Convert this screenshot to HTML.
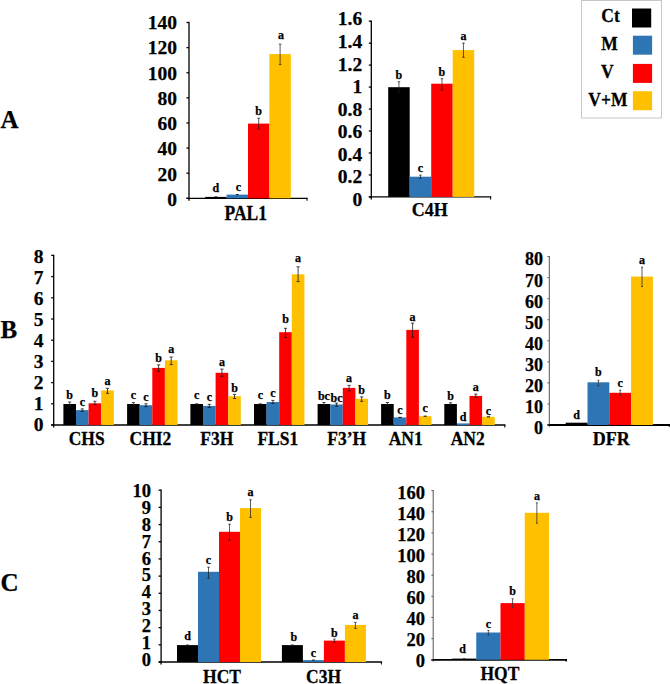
<!DOCTYPE html>
<html><head><meta charset="utf-8"><style>
html,body{margin:0;padding:0;background:#fff;width:670px;height:684px;overflow:hidden}
svg{display:block}
text{font-family:"Liberation Serif",serif;font-weight:bold;fill:#000;stroke:#000;stroke-width:0.25px}
</style></head><body>
<svg width="670" height="684" viewBox="0 0 670 684">
<line x1="189.00" y1="21.85" x2="189.00" y2="200.80" stroke="#000" stroke-width="1.3"/>
<line x1="186.50" y1="198.30" x2="307.65" y2="198.30" stroke="#000" stroke-width="1.3"/>
<line x1="307.00" y1="198.30" x2="307.00" y2="200.80" stroke="#000" stroke-width="1.04"/>
<line x1="186.50" y1="198.30" x2="189.00" y2="198.30" stroke="#000" stroke-width="1.3"/>
<line x1="186.50" y1="173.19" x2="189.00" y2="173.19" stroke="#000" stroke-width="1.3"/>
<line x1="186.50" y1="148.07" x2="189.00" y2="148.07" stroke="#000" stroke-width="1.3"/>
<line x1="186.50" y1="122.96" x2="189.00" y2="122.96" stroke="#000" stroke-width="1.3"/>
<line x1="186.50" y1="97.84" x2="189.00" y2="97.84" stroke="#000" stroke-width="1.3"/>
<line x1="186.50" y1="72.73" x2="189.00" y2="72.73" stroke="#000" stroke-width="1.3"/>
<line x1="186.50" y1="47.61" x2="189.00" y2="47.61" stroke="#000" stroke-width="1.3"/>
<line x1="186.50" y1="22.50" x2="189.00" y2="22.50" stroke="#000" stroke-width="1.3"/>
<text x="177.00" y="205.99" font-size="19.5" text-anchor="end">0</text>
<text x="177.00" y="180.74" font-size="19.5" text-anchor="end">20</text>
<text x="177.00" y="155.49" font-size="19.5" text-anchor="end">40</text>
<text x="177.00" y="130.24" font-size="19.5" text-anchor="end">60</text>
<text x="177.00" y="104.99" font-size="19.5" text-anchor="end">80</text>
<text x="177.00" y="79.74" font-size="19.5" text-anchor="end">100</text>
<text x="177.00" y="54.49" font-size="19.5" text-anchor="end">120</text>
<text x="177.00" y="29.24" font-size="19.5" text-anchor="end">140</text>
<rect x="205.20" y="196.90" width="21.40" height="1.40" fill="#000000"/>
<rect x="226.60" y="194.60" width="21.40" height="3.70" fill="#2E75B6"/>
<rect x="248.00" y="123.60" width="21.40" height="74.70" fill="#FF0000"/>
<rect x="269.40" y="54.10" width="21.40" height="144.20" fill="#FFC000"/>
<line x1="214.60" y1="196.90" x2="217.20" y2="196.90" stroke="#1a1a1a" stroke-width="1.1"/>
<text x="215.90" y="192.30" font-size="12" text-anchor="middle">d</text>
<line x1="236.00" y1="194.60" x2="238.60" y2="194.60" stroke="#1a1a1a" stroke-width="1.1"/>
<text x="238.30" y="191.00" font-size="12" text-anchor="middle">c</text>
<line x1="258.70" y1="118.20" x2="258.70" y2="129.00" stroke="#1a1a1a" stroke-width="0.7"/>
<line x1="257.40" y1="118.20" x2="260.00" y2="118.20" stroke="#1a1a1a" stroke-width="0.7"/>
<line x1="257.40" y1="129.00" x2="260.00" y2="129.00" stroke="#1a1a1a" stroke-width="0.7"/>
<text x="258.70" y="114.80" font-size="12" text-anchor="middle">b</text>
<line x1="280.10" y1="44.10" x2="280.10" y2="64.60" stroke="#1a1a1a" stroke-width="0.7"/>
<line x1="278.80" y1="44.10" x2="281.40" y2="44.10" stroke="#1a1a1a" stroke-width="0.7"/>
<line x1="278.80" y1="64.60" x2="281.40" y2="64.60" stroke="#1a1a1a" stroke-width="0.7"/>
<text x="281.00" y="39.40" font-size="12" text-anchor="middle">a</text>
<text transform="translate(245.80,219.60) scale(1,1.14)" font-size="17.5" text-anchor="middle">PAL1</text>
<line x1="371.30" y1="20.55" x2="371.30" y2="199.40" stroke="#000" stroke-width="1.3"/>
<line x1="368.80" y1="196.90" x2="491.25" y2="196.90" stroke="#000" stroke-width="1.3"/>
<line x1="490.60" y1="196.90" x2="490.60" y2="199.40" stroke="#000" stroke-width="1.04"/>
<line x1="368.80" y1="196.90" x2="371.30" y2="196.90" stroke="#000" stroke-width="1.3"/>
<line x1="368.80" y1="174.94" x2="371.30" y2="174.94" stroke="#000" stroke-width="1.3"/>
<line x1="368.80" y1="152.97" x2="371.30" y2="152.97" stroke="#000" stroke-width="1.3"/>
<line x1="368.80" y1="131.01" x2="371.30" y2="131.01" stroke="#000" stroke-width="1.3"/>
<line x1="368.80" y1="109.05" x2="371.30" y2="109.05" stroke="#000" stroke-width="1.3"/>
<line x1="368.80" y1="87.09" x2="371.30" y2="87.09" stroke="#000" stroke-width="1.3"/>
<line x1="368.80" y1="65.12" x2="371.30" y2="65.12" stroke="#000" stroke-width="1.3"/>
<line x1="368.80" y1="43.16" x2="371.30" y2="43.16" stroke="#000" stroke-width="1.3"/>
<line x1="368.80" y1="21.20" x2="371.30" y2="21.20" stroke="#000" stroke-width="1.3"/>
<text x="362.20" y="205.69" font-size="19.5" text-anchor="end">0</text>
<text x="362.20" y="183.17" font-size="19.5" text-anchor="end">0.2</text>
<text x="362.20" y="160.64" font-size="19.5" text-anchor="end">0.4</text>
<text x="362.20" y="138.12" font-size="19.5" text-anchor="end">0.6</text>
<text x="362.20" y="115.59" font-size="19.5" text-anchor="end">0.8</text>
<text x="362.20" y="93.07" font-size="19.5" text-anchor="end">1</text>
<text x="362.20" y="70.54" font-size="19.5" text-anchor="end">1.2</text>
<text x="362.20" y="48.02" font-size="19.5" text-anchor="end">1.4</text>
<text x="362.20" y="25.49" font-size="19.5" text-anchor="end">1.6</text>
<rect x="388.20" y="87.20" width="21.50" height="109.70" fill="#000000"/>
<rect x="409.70" y="176.70" width="21.50" height="20.20" fill="#2E75B6"/>
<rect x="431.20" y="83.70" width="21.50" height="113.20" fill="#FF0000"/>
<rect x="452.70" y="50.10" width="21.50" height="146.80" fill="#FFC000"/>
<line x1="398.95" y1="81.70" x2="398.95" y2="92.70" stroke="#1a1a1a" stroke-width="0.7"/>
<line x1="397.65" y1="81.70" x2="400.25" y2="81.70" stroke="#1a1a1a" stroke-width="0.7"/>
<line x1="397.65" y1="92.70" x2="400.25" y2="92.70" stroke="#1a1a1a" stroke-width="0.7"/>
<text x="398.95" y="79.10" font-size="12" text-anchor="middle">b</text>
<line x1="420.45" y1="175.20" x2="420.45" y2="178.20" stroke="#1a1a1a" stroke-width="0.7"/>
<line x1="419.15" y1="175.20" x2="421.75" y2="175.20" stroke="#1a1a1a" stroke-width="0.7"/>
<line x1="419.15" y1="178.20" x2="421.75" y2="178.20" stroke="#1a1a1a" stroke-width="0.7"/>
<text x="420.45" y="171.60" font-size="12" text-anchor="middle">c</text>
<line x1="441.95" y1="78.70" x2="441.95" y2="90.20" stroke="#1a1a1a" stroke-width="0.7"/>
<line x1="440.65" y1="78.70" x2="443.25" y2="78.70" stroke="#1a1a1a" stroke-width="0.7"/>
<line x1="440.65" y1="90.20" x2="443.25" y2="90.20" stroke="#1a1a1a" stroke-width="0.7"/>
<text x="441.95" y="76.00" font-size="12" text-anchor="middle">b</text>
<line x1="463.45" y1="43.10" x2="463.45" y2="57.30" stroke="#1a1a1a" stroke-width="0.7"/>
<line x1="462.15" y1="43.10" x2="464.75" y2="43.10" stroke="#1a1a1a" stroke-width="0.7"/>
<line x1="462.15" y1="57.30" x2="464.75" y2="57.30" stroke="#1a1a1a" stroke-width="0.7"/>
<text x="463.45" y="40.10" font-size="12" text-anchor="middle">a</text>
<text x="429.70" y="215.80" font-size="18" text-anchor="middle">C4H</text>
<rect x="581.5" y="0.5" width="80" height="117.5" fill="#fff" stroke="#c8c8c8" stroke-width="1"/>
<rect x="632.00" y="8.50" width="19.20" height="19.00" fill="#000000"/>
<rect x="632.90" y="35.70" width="19.20" height="19.00" fill="#2E75B6"/>
<rect x="632.90" y="63.90" width="19.20" height="19.00" fill="#FF0000"/>
<rect x="632.90" y="91.20" width="19.20" height="19.00" fill="#FFC000"/>
<text transform="translate(610.60,21.70) scale(1,1.08)" font-size="17.5" text-anchor="middle">Ct</text>
<text transform="translate(609.60,49.90) scale(1,1.08)" font-size="17.5" text-anchor="middle">M</text>
<text transform="translate(607.30,77.70) scale(1,1.08)" font-size="17.5" text-anchor="middle">V</text>
<text transform="translate(607.90,106.00) scale(1,1.08)" font-size="17.5" text-anchor="middle">V+M</text>
<text x="0.50" y="127.60" font-size="25" text-anchor="start">A</text>
<text x="0.50" y="338.40" font-size="25" text-anchor="start">B</text>
<text x="0.50" y="591.00" font-size="25" text-anchor="start">C</text>
<line x1="53.70" y1="254.75" x2="53.70" y2="427.50" stroke="#000" stroke-width="1.3"/>
<line x1="51.20" y1="425.00" x2="505.45" y2="425.00" stroke="#000" stroke-width="1.3"/>
<line x1="504.80" y1="425.00" x2="504.80" y2="427.50" stroke="#000" stroke-width="1.04"/>
<line x1="51.20" y1="425.00" x2="53.70" y2="425.00" stroke="#000" stroke-width="1.3"/>
<line x1="51.20" y1="403.80" x2="53.70" y2="403.80" stroke="#000" stroke-width="1.3"/>
<line x1="51.20" y1="382.60" x2="53.70" y2="382.60" stroke="#000" stroke-width="1.3"/>
<line x1="51.20" y1="361.40" x2="53.70" y2="361.40" stroke="#000" stroke-width="1.3"/>
<line x1="51.20" y1="340.20" x2="53.70" y2="340.20" stroke="#000" stroke-width="1.3"/>
<line x1="51.20" y1="319.00" x2="53.70" y2="319.00" stroke="#000" stroke-width="1.3"/>
<line x1="51.20" y1="297.80" x2="53.70" y2="297.80" stroke="#000" stroke-width="1.3"/>
<line x1="51.20" y1="276.60" x2="53.70" y2="276.60" stroke="#000" stroke-width="1.3"/>
<line x1="51.20" y1="255.40" x2="53.70" y2="255.40" stroke="#000" stroke-width="1.3"/>
<text x="43.40" y="430.84" font-size="19.5" text-anchor="end">0</text>
<text x="43.40" y="409.82" font-size="19.5" text-anchor="end">1</text>
<text x="43.40" y="388.81" font-size="19.5" text-anchor="end">2</text>
<text x="43.40" y="367.79" font-size="19.5" text-anchor="end">3</text>
<text x="43.40" y="346.77" font-size="19.5" text-anchor="end">4</text>
<text x="43.40" y="325.75" font-size="19.5" text-anchor="end">5</text>
<text x="43.40" y="304.73" font-size="19.5" text-anchor="end">6</text>
<text x="43.40" y="283.71" font-size="19.5" text-anchor="end">7</text>
<text x="43.40" y="262.69" font-size="19.5" text-anchor="end">8</text>
<rect x="63.40" y="404.00" width="12.60" height="21.00" fill="#000000"/>
<rect x="76.00" y="410.10" width="12.60" height="14.90" fill="#2E75B6"/>
<rect x="88.60" y="403.30" width="12.60" height="21.70" fill="#FF0000"/>
<rect x="101.20" y="390.40" width="12.60" height="34.60" fill="#FFC000"/>
<line x1="69.70" y1="402.00" x2="69.70" y2="405.50" stroke="#1a1a1a" stroke-width="0.8"/>
<line x1="68.10" y1="402.00" x2="71.30" y2="402.00" stroke="#1a1a1a" stroke-width="0.8"/>
<line x1="68.10" y1="405.50" x2="71.30" y2="405.50" stroke="#1a1a1a" stroke-width="0.8"/>
<text x="69.70" y="398.60" font-size="12" text-anchor="middle">b</text>
<line x1="82.30" y1="408.90" x2="82.30" y2="411.40" stroke="#1a1a1a" stroke-width="0.8"/>
<line x1="80.70" y1="408.90" x2="83.90" y2="408.90" stroke="#1a1a1a" stroke-width="0.8"/>
<line x1="80.70" y1="411.40" x2="83.90" y2="411.40" stroke="#1a1a1a" stroke-width="0.8"/>
<text x="82.30" y="406.30" font-size="12" text-anchor="middle">c</text>
<line x1="94.90" y1="401.30" x2="94.90" y2="404.50" stroke="#1a1a1a" stroke-width="0.8"/>
<line x1="93.30" y1="401.30" x2="96.50" y2="401.30" stroke="#1a1a1a" stroke-width="0.8"/>
<line x1="93.30" y1="404.50" x2="96.50" y2="404.50" stroke="#1a1a1a" stroke-width="0.8"/>
<text x="94.90" y="397.30" font-size="12" text-anchor="middle">b</text>
<line x1="107.50" y1="388.40" x2="107.50" y2="393.30" stroke="#1a1a1a" stroke-width="0.8"/>
<line x1="105.90" y1="388.40" x2="109.10" y2="388.40" stroke="#1a1a1a" stroke-width="0.8"/>
<line x1="105.90" y1="393.30" x2="109.10" y2="393.30" stroke="#1a1a1a" stroke-width="0.8"/>
<text x="107.50" y="385.20" font-size="12" text-anchor="middle">a</text>
<rect x="127.10" y="404.00" width="12.60" height="21.00" fill="#000000"/>
<rect x="139.70" y="405.20" width="12.60" height="19.80" fill="#2E75B6"/>
<rect x="152.30" y="367.90" width="12.60" height="57.10" fill="#FF0000"/>
<rect x="164.90" y="360.30" width="12.60" height="64.70" fill="#FFC000"/>
<line x1="133.40" y1="402.60" x2="133.40" y2="405.00" stroke="#1a1a1a" stroke-width="0.8"/>
<line x1="131.80" y1="402.60" x2="135.00" y2="402.60" stroke="#1a1a1a" stroke-width="0.8"/>
<line x1="131.80" y1="405.00" x2="135.00" y2="405.00" stroke="#1a1a1a" stroke-width="0.8"/>
<text x="133.40" y="399.40" font-size="12" text-anchor="middle">c</text>
<line x1="146.00" y1="403.80" x2="146.00" y2="406.70" stroke="#1a1a1a" stroke-width="0.8"/>
<line x1="144.40" y1="403.80" x2="147.60" y2="403.80" stroke="#1a1a1a" stroke-width="0.8"/>
<line x1="144.40" y1="406.70" x2="147.60" y2="406.70" stroke="#1a1a1a" stroke-width="0.8"/>
<text x="146.00" y="401.10" font-size="12" text-anchor="middle">c</text>
<line x1="158.60" y1="364.90" x2="158.60" y2="371.40" stroke="#1a1a1a" stroke-width="0.8"/>
<line x1="157.00" y1="364.90" x2="160.20" y2="364.90" stroke="#1a1a1a" stroke-width="0.8"/>
<line x1="157.00" y1="371.40" x2="160.20" y2="371.40" stroke="#1a1a1a" stroke-width="0.8"/>
<text x="158.60" y="361.70" font-size="12" text-anchor="middle">b</text>
<line x1="171.20" y1="357.00" x2="171.20" y2="364.60" stroke="#1a1a1a" stroke-width="0.8"/>
<line x1="169.60" y1="357.00" x2="172.80" y2="357.00" stroke="#1a1a1a" stroke-width="0.8"/>
<line x1="169.60" y1="364.60" x2="172.80" y2="364.60" stroke="#1a1a1a" stroke-width="0.8"/>
<text x="171.20" y="353.30" font-size="12" text-anchor="middle">a</text>
<rect x="190.40" y="404.00" width="12.60" height="21.00" fill="#000000"/>
<rect x="203.00" y="405.90" width="12.60" height="19.10" fill="#2E75B6"/>
<rect x="215.60" y="372.80" width="12.60" height="52.20" fill="#FF0000"/>
<rect x="228.20" y="396.20" width="12.60" height="28.80" fill="#FFC000"/>
<line x1="195.10" y1="404.00" x2="198.30" y2="404.00" stroke="#1a1a1a" stroke-width="1.1"/>
<text x="196.70" y="398.50" font-size="12" text-anchor="middle">c</text>
<line x1="209.30" y1="404.40" x2="209.30" y2="407.50" stroke="#1a1a1a" stroke-width="0.8"/>
<line x1="207.70" y1="404.40" x2="210.90" y2="404.40" stroke="#1a1a1a" stroke-width="0.8"/>
<line x1="207.70" y1="407.50" x2="210.90" y2="407.50" stroke="#1a1a1a" stroke-width="0.8"/>
<text x="209.30" y="400.90" font-size="12" text-anchor="middle">c</text>
<line x1="221.90" y1="369.10" x2="221.90" y2="376.30" stroke="#1a1a1a" stroke-width="0.8"/>
<line x1="220.30" y1="369.10" x2="223.50" y2="369.10" stroke="#1a1a1a" stroke-width="0.8"/>
<line x1="220.30" y1="376.30" x2="223.50" y2="376.30" stroke="#1a1a1a" stroke-width="0.8"/>
<text x="221.90" y="365.80" font-size="12" text-anchor="middle">a</text>
<line x1="234.50" y1="394.40" x2="234.50" y2="398.50" stroke="#1a1a1a" stroke-width="0.8"/>
<line x1="232.90" y1="394.40" x2="236.10" y2="394.40" stroke="#1a1a1a" stroke-width="0.8"/>
<line x1="232.90" y1="398.50" x2="236.10" y2="398.50" stroke="#1a1a1a" stroke-width="0.8"/>
<text x="234.50" y="391.50" font-size="12" text-anchor="middle">b</text>
<rect x="254.00" y="404.00" width="12.60" height="21.00" fill="#000000"/>
<rect x="266.60" y="402.00" width="12.60" height="23.00" fill="#2E75B6"/>
<rect x="279.20" y="332.20" width="12.60" height="92.80" fill="#FF0000"/>
<rect x="291.80" y="274.30" width="12.60" height="150.70" fill="#FFC000"/>
<line x1="258.70" y1="404.00" x2="261.90" y2="404.00" stroke="#1a1a1a" stroke-width="1.1"/>
<text x="260.30" y="399.10" font-size="12" text-anchor="middle">c</text>
<line x1="272.90" y1="400.40" x2="272.90" y2="403.50" stroke="#1a1a1a" stroke-width="0.8"/>
<line x1="271.30" y1="400.40" x2="274.50" y2="400.40" stroke="#1a1a1a" stroke-width="0.8"/>
<line x1="271.30" y1="403.50" x2="274.50" y2="403.50" stroke="#1a1a1a" stroke-width="0.8"/>
<text x="272.90" y="397.30" font-size="12" text-anchor="middle">c</text>
<line x1="285.50" y1="328.30" x2="285.50" y2="337.60" stroke="#1a1a1a" stroke-width="0.8"/>
<line x1="283.90" y1="328.30" x2="287.10" y2="328.30" stroke="#1a1a1a" stroke-width="0.8"/>
<line x1="283.90" y1="337.60" x2="287.10" y2="337.60" stroke="#1a1a1a" stroke-width="0.8"/>
<text x="285.50" y="323.40" font-size="12" text-anchor="middle">b</text>
<line x1="298.10" y1="266.80" x2="298.10" y2="281.60" stroke="#1a1a1a" stroke-width="0.8"/>
<line x1="296.50" y1="266.80" x2="299.70" y2="266.80" stroke="#1a1a1a" stroke-width="0.8"/>
<line x1="296.50" y1="281.60" x2="299.70" y2="281.60" stroke="#1a1a1a" stroke-width="0.8"/>
<text x="298.10" y="262.10" font-size="12" text-anchor="middle">a</text>
<rect x="317.60" y="404.00" width="12.60" height="21.00" fill="#000000"/>
<rect x="330.20" y="404.50" width="12.60" height="20.50" fill="#2E75B6"/>
<rect x="342.80" y="387.90" width="12.60" height="37.10" fill="#FF0000"/>
<rect x="355.40" y="398.80" width="12.60" height="26.20" fill="#FFC000"/>
<line x1="323.90" y1="402.50" x2="323.90" y2="405.00" stroke="#1a1a1a" stroke-width="0.8"/>
<line x1="322.30" y1="402.50" x2="325.50" y2="402.50" stroke="#1a1a1a" stroke-width="0.8"/>
<line x1="322.30" y1="405.00" x2="325.50" y2="405.00" stroke="#1a1a1a" stroke-width="0.8"/>
<text x="323.90" y="400.00" font-size="12" text-anchor="middle">bc</text>
<line x1="336.50" y1="403.10" x2="336.50" y2="406.30" stroke="#1a1a1a" stroke-width="0.8"/>
<line x1="334.90" y1="403.10" x2="338.10" y2="403.10" stroke="#1a1a1a" stroke-width="0.8"/>
<line x1="334.90" y1="406.30" x2="338.10" y2="406.30" stroke="#1a1a1a" stroke-width="0.8"/>
<text x="336.50" y="401.80" font-size="12" text-anchor="middle">bc</text>
<line x1="349.10" y1="385.40" x2="349.10" y2="390.80" stroke="#1a1a1a" stroke-width="0.8"/>
<line x1="347.50" y1="385.40" x2="350.70" y2="385.40" stroke="#1a1a1a" stroke-width="0.8"/>
<line x1="347.50" y1="390.80" x2="350.70" y2="390.80" stroke="#1a1a1a" stroke-width="0.8"/>
<text x="349.10" y="381.60" font-size="12" text-anchor="middle">a</text>
<line x1="361.70" y1="396.90" x2="361.70" y2="401.30" stroke="#1a1a1a" stroke-width="0.8"/>
<line x1="360.10" y1="396.90" x2="363.30" y2="396.90" stroke="#1a1a1a" stroke-width="0.8"/>
<line x1="360.10" y1="401.30" x2="363.30" y2="401.30" stroke="#1a1a1a" stroke-width="0.8"/>
<text x="361.70" y="393.70" font-size="12" text-anchor="middle">b</text>
<rect x="381.10" y="404.00" width="12.60" height="21.00" fill="#000000"/>
<rect x="393.70" y="417.40" width="12.60" height="7.60" fill="#2E75B6"/>
<rect x="406.30" y="329.90" width="12.60" height="95.10" fill="#FF0000"/>
<rect x="418.90" y="416.20" width="12.60" height="8.80" fill="#FFC000"/>
<line x1="387.40" y1="402.50" x2="387.40" y2="405.00" stroke="#1a1a1a" stroke-width="0.8"/>
<line x1="385.80" y1="402.50" x2="389.00" y2="402.50" stroke="#1a1a1a" stroke-width="0.8"/>
<line x1="385.80" y1="405.00" x2="389.00" y2="405.00" stroke="#1a1a1a" stroke-width="0.8"/>
<text x="387.40" y="399.30" font-size="12" text-anchor="middle">b</text>
<line x1="398.40" y1="417.40" x2="401.60" y2="417.40" stroke="#1a1a1a" stroke-width="1.1"/>
<text x="400.00" y="414.10" font-size="12" text-anchor="middle">c</text>
<line x1="412.60" y1="323.20" x2="412.60" y2="337.20" stroke="#1a1a1a" stroke-width="0.8"/>
<line x1="411.00" y1="323.20" x2="414.20" y2="323.20" stroke="#1a1a1a" stroke-width="0.8"/>
<line x1="411.00" y1="337.20" x2="414.20" y2="337.20" stroke="#1a1a1a" stroke-width="0.8"/>
<text x="412.60" y="320.90" font-size="12" text-anchor="middle">a</text>
<line x1="423.60" y1="416.20" x2="426.80" y2="416.20" stroke="#1a1a1a" stroke-width="1.1"/>
<text x="425.20" y="412.30" font-size="12" text-anchor="middle">c</text>
<rect x="444.30" y="404.00" width="12.60" height="21.00" fill="#000000"/>
<rect x="456.90" y="423.40" width="12.60" height="1.60" fill="#2E75B6"/>
<rect x="469.50" y="395.90" width="12.60" height="29.10" fill="#FF0000"/>
<rect x="482.10" y="416.80" width="12.60" height="8.20" fill="#FFC000"/>
<line x1="450.60" y1="402.80" x2="450.60" y2="405.00" stroke="#1a1a1a" stroke-width="0.8"/>
<line x1="449.00" y1="402.80" x2="452.20" y2="402.80" stroke="#1a1a1a" stroke-width="0.8"/>
<line x1="449.00" y1="405.00" x2="452.20" y2="405.00" stroke="#1a1a1a" stroke-width="0.8"/>
<text x="450.60" y="399.90" font-size="12" text-anchor="middle">b</text>
<text x="463.20" y="421.30" font-size="12" text-anchor="middle">d</text>
<line x1="475.80" y1="394.10" x2="475.80" y2="397.20" stroke="#1a1a1a" stroke-width="0.8"/>
<line x1="474.20" y1="394.10" x2="477.40" y2="394.10" stroke="#1a1a1a" stroke-width="0.8"/>
<line x1="474.20" y1="397.20" x2="477.40" y2="397.20" stroke="#1a1a1a" stroke-width="0.8"/>
<text x="475.80" y="391.00" font-size="12" text-anchor="middle">a</text>
<line x1="486.80" y1="416.80" x2="490.00" y2="416.80" stroke="#1a1a1a" stroke-width="1.1"/>
<text x="488.40" y="415.00" font-size="12" text-anchor="middle">c</text>
<text transform="translate(86.65,445.20) scale(1,1.03)" font-size="17.5" text-anchor="middle">CHS</text>
<text transform="translate(150.45,445.20) scale(1,1.03)" font-size="17.5" text-anchor="middle">CHI2</text>
<text transform="translate(216.85,445.20) scale(1,1.03)" font-size="17.5" text-anchor="middle">F3H</text>
<text transform="translate(277.85,445.20) scale(1,1.03)" font-size="17.5" text-anchor="middle">FLS1</text>
<text transform="translate(346.75,445.20) scale(1,1.03)" font-size="17.5" text-anchor="middle">F3’H</text>
<text transform="translate(405.70,445.20) scale(1,1.03)" font-size="17.5" text-anchor="middle">AN1</text>
<text transform="translate(467.70,445.20) scale(1,1.03)" font-size="17.5" text-anchor="middle">AN2</text>
<line x1="549.30" y1="256.10" x2="549.30" y2="426.80" stroke="#555" stroke-width="1.0"/>
<line x1="547.50" y1="425.00" x2="670.30" y2="425.00" stroke="#000" stroke-width="1.8"/>
<line x1="669.40" y1="425.00" x2="669.40" y2="426.80" stroke="#000" stroke-width="1.4400000000000002"/>
<line x1="547.50" y1="425.00" x2="549.30" y2="425.00" stroke="#555" stroke-width="1.0"/>
<line x1="547.50" y1="403.95" x2="549.30" y2="403.95" stroke="#555" stroke-width="1.0"/>
<line x1="547.50" y1="382.90" x2="549.30" y2="382.90" stroke="#555" stroke-width="1.0"/>
<line x1="547.50" y1="361.85" x2="549.30" y2="361.85" stroke="#555" stroke-width="1.0"/>
<line x1="547.50" y1="340.80" x2="549.30" y2="340.80" stroke="#555" stroke-width="1.0"/>
<line x1="547.50" y1="319.75" x2="549.30" y2="319.75" stroke="#555" stroke-width="1.0"/>
<line x1="547.50" y1="298.70" x2="549.30" y2="298.70" stroke="#555" stroke-width="1.0"/>
<line x1="547.50" y1="277.65" x2="549.30" y2="277.65" stroke="#555" stroke-width="1.0"/>
<line x1="547.50" y1="256.60" x2="549.30" y2="256.60" stroke="#555" stroke-width="1.0"/>
<text x="542.90" y="433.99" font-size="18" text-anchor="end">0</text>
<text x="542.90" y="412.93" font-size="18" text-anchor="end">10</text>
<text x="542.90" y="391.87" font-size="18" text-anchor="end">20</text>
<text x="542.90" y="370.81" font-size="18" text-anchor="end">30</text>
<text x="542.90" y="349.74" font-size="18" text-anchor="end">40</text>
<text x="542.90" y="328.68" font-size="18" text-anchor="end">50</text>
<text x="542.90" y="307.62" font-size="18" text-anchor="end">60</text>
<text x="542.90" y="286.56" font-size="18" text-anchor="end">70</text>
<text x="542.90" y="265.49" font-size="18" text-anchor="end">80</text>
<rect x="565.70" y="422.70" width="21.80" height="2.30" fill="#000000"/>
<rect x="587.50" y="382.30" width="21.80" height="42.70" fill="#2E75B6"/>
<rect x="609.30" y="392.80" width="21.80" height="32.20" fill="#FF0000"/>
<rect x="631.10" y="276.60" width="21.80" height="148.40" fill="#FFC000"/>
<text x="576.60" y="419.10" font-size="12" text-anchor="middle">d</text>
<line x1="598.40" y1="380.30" x2="598.40" y2="385.70" stroke="#333" stroke-width="0.8"/>
<line x1="597.40" y1="380.30" x2="599.40" y2="380.30" stroke="#333" stroke-width="0.8"/>
<line x1="597.40" y1="385.70" x2="599.40" y2="385.70" stroke="#333" stroke-width="0.8"/>
<text x="598.40" y="376.10" font-size="12" text-anchor="middle">b</text>
<line x1="620.20" y1="390.20" x2="620.20" y2="395.50" stroke="#333" stroke-width="0.8"/>
<line x1="619.20" y1="390.20" x2="621.20" y2="390.20" stroke="#333" stroke-width="0.8"/>
<line x1="619.20" y1="395.50" x2="621.20" y2="395.50" stroke="#333" stroke-width="0.8"/>
<text x="620.20" y="386.90" font-size="12" text-anchor="middle">c</text>
<line x1="642.00" y1="267.20" x2="642.00" y2="286.60" stroke="#333" stroke-width="0.8"/>
<line x1="641.00" y1="267.20" x2="643.00" y2="267.20" stroke="#333" stroke-width="0.8"/>
<line x1="641.00" y1="286.60" x2="643.00" y2="286.60" stroke="#333" stroke-width="0.8"/>
<text x="642.00" y="263.90" font-size="12" text-anchor="middle">a</text>
<text x="611.30" y="444.60" font-size="18" text-anchor="middle">DFR</text>
<line x1="161.10" y1="489.55" x2="161.10" y2="664.50" stroke="#000" stroke-width="1.3"/>
<line x1="158.60" y1="662.00" x2="382.05" y2="662.00" stroke="#000" stroke-width="1.3"/>
<line x1="381.40" y1="662.00" x2="381.40" y2="664.50" stroke="#000" stroke-width="1.04"/>
<line x1="158.60" y1="662.00" x2="161.10" y2="662.00" stroke="#000" stroke-width="1.3"/>
<line x1="158.60" y1="644.82" x2="161.10" y2="644.82" stroke="#000" stroke-width="1.3"/>
<line x1="158.60" y1="627.64" x2="161.10" y2="627.64" stroke="#000" stroke-width="1.3"/>
<line x1="158.60" y1="610.46" x2="161.10" y2="610.46" stroke="#000" stroke-width="1.3"/>
<line x1="158.60" y1="593.28" x2="161.10" y2="593.28" stroke="#000" stroke-width="1.3"/>
<line x1="158.60" y1="576.10" x2="161.10" y2="576.10" stroke="#000" stroke-width="1.3"/>
<line x1="158.60" y1="558.92" x2="161.10" y2="558.92" stroke="#000" stroke-width="1.3"/>
<line x1="158.60" y1="541.74" x2="161.10" y2="541.74" stroke="#000" stroke-width="1.3"/>
<line x1="158.60" y1="524.56" x2="161.10" y2="524.56" stroke="#000" stroke-width="1.3"/>
<line x1="158.60" y1="507.38" x2="161.10" y2="507.38" stroke="#000" stroke-width="1.3"/>
<line x1="158.60" y1="490.20" x2="161.10" y2="490.20" stroke="#000" stroke-width="1.3"/>
<text x="151.00" y="665.96" font-size="18.5" text-anchor="end">0</text>
<text x="151.00" y="649.07" font-size="18.5" text-anchor="end">1</text>
<text x="151.00" y="632.17" font-size="18.5" text-anchor="end">2</text>
<text x="151.00" y="615.28" font-size="18.5" text-anchor="end">3</text>
<text x="151.00" y="598.38" font-size="18.5" text-anchor="end">4</text>
<text x="151.00" y="581.49" font-size="18.5" text-anchor="end">5</text>
<text x="151.00" y="564.59" font-size="18.5" text-anchor="end">6</text>
<text x="151.00" y="547.70" font-size="18.5" text-anchor="end">7</text>
<text x="151.00" y="530.80" font-size="18.5" text-anchor="end">8</text>
<text x="151.00" y="513.91" font-size="18.5" text-anchor="end">9</text>
<text x="151.00" y="497.01" font-size="18.5" text-anchor="end">10</text>
<rect x="177.00" y="645.10" width="21.00" height="16.90" fill="#000000"/>
<rect x="198.00" y="571.80" width="21.00" height="90.20" fill="#2E75B6"/>
<rect x="219.00" y="531.80" width="21.00" height="130.20" fill="#FF0000"/>
<rect x="240.00" y="508.10" width="21.00" height="153.90" fill="#FFC000"/>
<line x1="186.20" y1="645.10" x2="188.80" y2="645.10" stroke="#1a1a1a" stroke-width="1.1"/>
<text x="187.50" y="640.10" font-size="12" text-anchor="middle">d</text>
<line x1="208.50" y1="567.20" x2="208.50" y2="578.20" stroke="#1a1a1a" stroke-width="0.7"/>
<line x1="207.20" y1="567.20" x2="209.80" y2="567.20" stroke="#1a1a1a" stroke-width="0.7"/>
<line x1="207.20" y1="578.20" x2="209.80" y2="578.20" stroke="#1a1a1a" stroke-width="0.7"/>
<text x="208.50" y="563.80" font-size="12" text-anchor="middle">c</text>
<line x1="229.50" y1="524.20" x2="229.50" y2="540.20" stroke="#1a1a1a" stroke-width="0.7"/>
<line x1="228.20" y1="524.20" x2="230.80" y2="524.20" stroke="#1a1a1a" stroke-width="0.7"/>
<line x1="228.20" y1="540.20" x2="230.80" y2="540.20" stroke="#1a1a1a" stroke-width="0.7"/>
<text x="229.50" y="520.70" font-size="12" text-anchor="middle">b</text>
<line x1="250.50" y1="499.80" x2="250.50" y2="517.40" stroke="#1a1a1a" stroke-width="0.7"/>
<line x1="249.20" y1="499.80" x2="251.80" y2="499.80" stroke="#1a1a1a" stroke-width="0.7"/>
<line x1="249.20" y1="517.40" x2="251.80" y2="517.40" stroke="#1a1a1a" stroke-width="0.7"/>
<text x="250.50" y="495.80" font-size="12" text-anchor="middle">a</text>
<rect x="281.90" y="645.10" width="21.00" height="16.90" fill="#000000"/>
<rect x="302.90" y="660.10" width="21.00" height="1.90" fill="#2E75B6"/>
<rect x="323.90" y="640.60" width="21.00" height="21.40" fill="#FF0000"/>
<rect x="344.90" y="624.90" width="21.00" height="37.10" fill="#FFC000"/>
<line x1="291.10" y1="645.10" x2="293.70" y2="645.10" stroke="#1a1a1a" stroke-width="1.1"/>
<text x="293.90" y="641.00" font-size="12" text-anchor="middle">b</text>
<line x1="312.10" y1="660.10" x2="314.70" y2="660.10" stroke="#1a1a1a" stroke-width="1.1"/>
<text x="313.40" y="656.70" font-size="12" text-anchor="middle">c</text>
<line x1="334.40" y1="639.10" x2="334.40" y2="642.10" stroke="#1a1a1a" stroke-width="0.7"/>
<line x1="333.10" y1="639.10" x2="335.70" y2="639.10" stroke="#1a1a1a" stroke-width="0.7"/>
<line x1="333.10" y1="642.10" x2="335.70" y2="642.10" stroke="#1a1a1a" stroke-width="0.7"/>
<text x="334.40" y="636.60" font-size="12" text-anchor="middle">b</text>
<line x1="355.40" y1="622.40" x2="355.40" y2="628.40" stroke="#1a1a1a" stroke-width="0.7"/>
<line x1="354.10" y1="622.40" x2="356.70" y2="622.40" stroke="#1a1a1a" stroke-width="0.7"/>
<line x1="354.10" y1="628.40" x2="356.70" y2="628.40" stroke="#1a1a1a" stroke-width="0.7"/>
<text x="355.40" y="619.40" font-size="12" text-anchor="middle">a</text>
<text transform="translate(222.05,683.20) scale(1,1.08)" font-size="17.5" text-anchor="middle">HCT</text>
<text transform="translate(323.60,682.80) scale(1,1.05)" font-size="17.5" text-anchor="middle">C3H</text>
<line x1="433.20" y1="490.10" x2="433.20" y2="661.60" stroke="#555" stroke-width="1.0"/>
<line x1="431.40" y1="659.80" x2="567.00" y2="659.80" stroke="#000" stroke-width="1.8"/>
<line x1="566.10" y1="659.80" x2="566.10" y2="661.60" stroke="#000" stroke-width="1.4400000000000002"/>
<line x1="431.40" y1="659.80" x2="433.20" y2="659.80" stroke="#555" stroke-width="1.0"/>
<line x1="431.40" y1="638.65" x2="433.20" y2="638.65" stroke="#555" stroke-width="1.0"/>
<line x1="431.40" y1="617.50" x2="433.20" y2="617.50" stroke="#555" stroke-width="1.0"/>
<line x1="431.40" y1="596.35" x2="433.20" y2="596.35" stroke="#555" stroke-width="1.0"/>
<line x1="431.40" y1="575.20" x2="433.20" y2="575.20" stroke="#555" stroke-width="1.0"/>
<line x1="431.40" y1="554.05" x2="433.20" y2="554.05" stroke="#555" stroke-width="1.0"/>
<line x1="431.40" y1="532.90" x2="433.20" y2="532.90" stroke="#555" stroke-width="1.0"/>
<line x1="431.40" y1="511.75" x2="433.20" y2="511.75" stroke="#555" stroke-width="1.0"/>
<line x1="431.40" y1="490.60" x2="433.20" y2="490.60" stroke="#555" stroke-width="1.0"/>
<text x="424.90" y="666.86" font-size="18.5" text-anchor="end">0</text>
<text x="424.90" y="645.82" font-size="18.5" text-anchor="end">20</text>
<text x="424.90" y="624.77" font-size="18.5" text-anchor="end">40</text>
<text x="424.90" y="603.73" font-size="18.5" text-anchor="end">60</text>
<text x="424.90" y="582.69" font-size="18.5" text-anchor="end">80</text>
<text x="424.90" y="561.64" font-size="18.5" text-anchor="end">100</text>
<text x="424.90" y="540.60" font-size="18.5" text-anchor="end">120</text>
<text x="424.90" y="519.55" font-size="18.5" text-anchor="end">140</text>
<text x="424.90" y="498.51" font-size="18.5" text-anchor="end">160</text>
<rect x="452.00" y="658.60" width="24.25" height="1.20" fill="#000000"/>
<rect x="476.25" y="632.50" width="24.25" height="27.30" fill="#2E75B6"/>
<rect x="500.50" y="603.10" width="24.25" height="56.70" fill="#FF0000"/>
<rect x="524.75" y="512.80" width="24.25" height="147.00" fill="#FFC000"/>
<line x1="463.12" y1="658.60" x2="465.12" y2="658.60" stroke="#333" stroke-width="1.1"/>
<text x="462.60" y="653.30" font-size="12" text-anchor="middle">d</text>
<line x1="488.38" y1="630.40" x2="488.38" y2="635.30" stroke="#333" stroke-width="0.8"/>
<line x1="487.38" y1="630.40" x2="489.38" y2="630.40" stroke="#333" stroke-width="0.8"/>
<line x1="487.38" y1="635.30" x2="489.38" y2="635.30" stroke="#333" stroke-width="0.8"/>
<text x="488.38" y="627.60" font-size="12" text-anchor="middle">c</text>
<line x1="512.62" y1="598.80" x2="512.62" y2="607.50" stroke="#333" stroke-width="0.8"/>
<line x1="511.62" y1="598.80" x2="513.62" y2="598.80" stroke="#333" stroke-width="0.8"/>
<line x1="511.62" y1="607.50" x2="513.62" y2="607.50" stroke="#333" stroke-width="0.8"/>
<text x="512.62" y="595.30" font-size="12" text-anchor="middle">b</text>
<line x1="536.88" y1="502.80" x2="536.88" y2="523.30" stroke="#333" stroke-width="0.8"/>
<line x1="535.88" y1="502.80" x2="537.88" y2="502.80" stroke="#333" stroke-width="0.8"/>
<line x1="535.88" y1="523.30" x2="537.88" y2="523.30" stroke="#333" stroke-width="0.8"/>
<text x="536.88" y="499.60" font-size="12" text-anchor="middle">a</text>
<text transform="translate(499.95,679.80) scale(1,1.08)" font-size="17.5" text-anchor="middle">HQT</text>
</svg>
</body></html>
